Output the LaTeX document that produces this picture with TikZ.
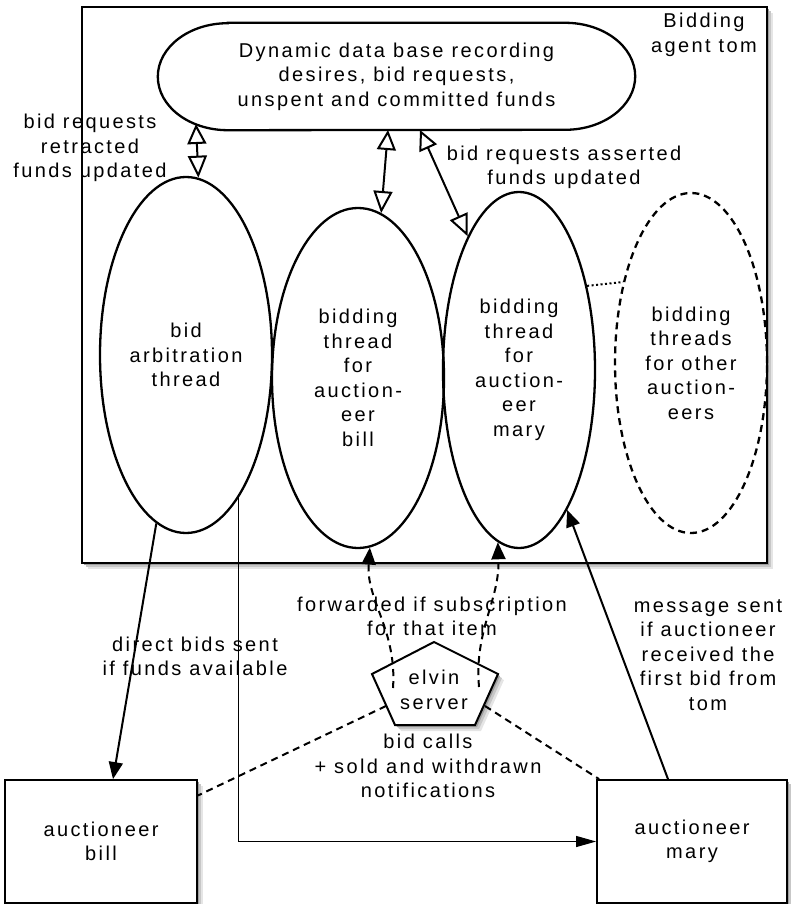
\documentclass[tikz,border=0pt]{standalone}
\usepackage{fontspec}
\setmainfont{Liberation Sans}[LetterSpace=12]
\usetikzlibrary{shapes.geometric,arrows.meta,calc}

\begin{document}
\begin{tikzpicture}[x=1pt,y=-1pt,
  every node/.style={font=\fontsize{20}{24.5}\selectfont, align=center, inner sep=0pt},
  thread/.style={ellipse, draw, line width=2.3pt},
  frame/.style={draw, line width=1.8pt, fill=white},
  shadeA/.style={fill=black!10},
  shadeB/.style={fill=black!22},
  shadeC/.style={fill=black!38},
  dbarrow/.style={line width=2pt, {Triangle[open,length=20pt,width=19pt]}-{Triangle[open,length=22pt,width=19pt]}},
  msgarrow/.style={line width=2pt, -{Triangle[length=17pt,width=14pt]}},
  thinarrow/.style={line width=1.1pt, -{Triangle[length=20pt,width=11pt]}},
  evtarrow/.style={line width=2pt, dash pattern=on 7pt off 5pt, -{Triangle[length=17pt,width=14pt]}},
  evtline/.style={line width=2pt, dash pattern=on 7pt off 5pt},
  linkdots/.style={line width=2pt, dash pattern=on 2pt off 2.5pt}
]
\useasboundingbox (0,0) rectangle (790,904);

% shadows under the frames
\path[shadeA] (88,13) rectangle (773,569);
\path[shadeB] (86,11) rectangle (771,567);
\path[shadeC] (84,9) rectangle (769,565);
\path[shadeA] (11,786) rectangle (203,909);
\path[shadeB] (9,784) rectangle (201,907);
\path[shadeC] (7,782) rectangle (199,905);
\path[shadeA] (603,786) rectangle (793,909);
\path[shadeB] (601,784) rectangle (791,907);
\path[shadeC] (599,782) rectangle (789,905);

% bidding agent frame
\node[frame, minimum width=685pt, minimum height=556pt] (agent) at (424.5,285) {};
\node (agentlbl) at (704,35) {Bidding\\agent tom};

% dynamic data base (stadium with elliptical ends)
\node[minimum width=477pt, minimum height=107pt] (db) at (396.5,76.5)
  {Dynamic data base recording\\desires, bid requests,\\unspent and committed funds};
\draw[line width=2.3pt] ($(db.north west)+(70,0)$) -- ($(db.north east)+(-70,0)$)
  arc[start angle=90, end angle=-90, x radius=70pt, y radius=53.5pt]
  -- ($(db.south west)+(70,0)$)
  arc[start angle=270, end angle=90, x radius=70pt, y radius=53.5pt] -- cycle;
\coordinate (dbA) at (196,124);
\coordinate (dbB) at (388,130);
\coordinate (dbC) at (420,130);

% threads
\node[thread, minimum width=172pt, minimum height=356pt] (arb) at (186,355) {bid\\arbitration\\thread};
\node[thread, minimum width=172pt, minimum height=340pt] (bill) at (358,378) {bidding\\thread\\for\\auction-\\eer\\bill};
\node[thread, minimum width=152pt, minimum height=356pt] (mary) at (519,370) {bidding\\thread\\for\\auction-\\eer\\mary};
\node[thread, dash pattern=on 7pt off 5pt, minimum width=152pt, minimum height=340pt] (others) at (691,363) {bidding\\threads\\for other\\auction-\\eers};
\draw[linkdots] (mary.51.8) -- (others.130.9);

% data base links
\draw[dbarrow] (dbA) -- (arb.86.8);
\draw[dbarrow] (dbB) -- (bill.82.4);
\draw[dbarrow] (dbC) -- (mary.111.8);
\node (lblretract) at (90,148) {bid requests\\retracted\\funds updated};
\node (lblassert) at (564,167.5) {bid requests asserted\\funds updated};

% auctioneers
\node[frame, minimum width=192pt, minimum height=123pt] (bbill) at (101,841.5) {auctioneer\\bill};
\node[frame, minimum width=190pt, minimum height=123pt] (bmary) at (692,841.5) {auctioneer\\mary};

% elvin server with its shadow
\coordinate (elvinc) at (434,690);
\path[shadeA] (440,648) -- (504,680) -- (481,731) -- (401,731) -- (378,680) -- cycle;
\path[shadeB] (438,646) -- (502,678) -- (479,729) -- (399,729) -- (376,678) -- cycle;
\path[shadeC] (436,644) -- (500,676) -- (477,727) -- (397,727) -- (374,676) -- cycle;
\filldraw[fill=white, line width=2pt, line join=miter]
  ($(elvinc)+(0,-48)$) -- ($(elvinc)+(64,-16)$) -- ($(elvinc)+(41,35)$)
  -- ($(elvinc)+(-39,35)$) -- ($(elvinc)+(-62,-16)$) -- cycle;
\node (elvin) at (elvinc) {elvin\\server};
\coordinate (elvL) at ($(elvinc)+(-41,-2)$);
\coordinate (elvR) at ($(elvinc)+(45,-3)$);
\coordinate (elvSW) at ($(elvinc)+(-48,16)$);
\coordinate (elvSE) at ($(elvinc)+(51,16)$);

% messages
\draw[msgarrow] (arb.260.2) -- ([xshift=12pt]bbill.north);
\draw[thinarrow] (arb.290.1) |- (bmary.west);
\draw[msgarrow] ([xshift=-24pt]bmary.north) -- (mary.289.8);
\draw[evtarrow] (elvL) .. controls ($(elvinc)+(-37,-60)$) and (366,600) .. (bill.-86.6);
\draw[evtarrow] (elvR) .. controls ($(elvinc)+(40,-60)$) and (500,600) .. (mary.263);
\draw[evtline] (elvSW) -- ([yshift=46pt]bbill.east);
\draw[evtline] (elvSE) -- ([xshift=3pt]bmary.north west);

\node (lbldirect) at (195,656.5) {direct bids sent\\if funds available};
\node (lblfwd) at (432,616.5) {forwarded if subscription\\for that item};
\node (lblcalls) at (428,766) {bid calls\\+ sold and withdrawn\\notifications};
\node (lblmsg) at (708,655) {message sent\\if auctioneer\\received the\\first bid from\\tom};
\end{tikzpicture}
\end{document}
